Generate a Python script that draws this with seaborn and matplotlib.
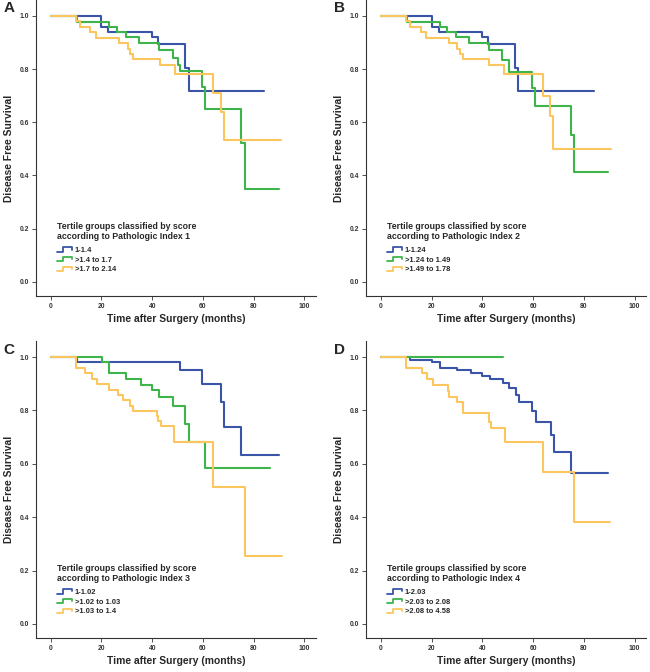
import pandas as pd
import matplotlib
matplotlib.use("Agg")
import matplotlib.pyplot as plt
import seaborn as sns
from matplotlib.legend_handler import HandlerBase
from matplotlib.lines import Line2D

# step points of the Kaplan-Meier curves (time, survival)
blue_a_t = [0, 20, 22.5, 40, 42.5, 53, 54.5, 84]
blue_a_s = [1, 0.96, 0.94, 0.92, 0.895, 0.805, 0.717, 0.717]
green_a_t = [0, 10.5, 23, 26.3, 29.6, 35, 42.9, 48.2, 50.4, 51, 59.5, 61, 74.9, 76.7, 89.9]
green_a_s = [1, 0.978, 0.958, 0.94, 0.92, 0.9, 0.871, 0.84, 0.817, 0.792, 0.732, 0.651, 0.522, 0.348, 0.348]
yellow_a_t = [0, 10, 11.6, 15.5, 17.8, 27, 30.3, 31.3, 32.6, 43.2, 49, 64.2, 67, 68.2, 90.9]
yellow_a_s = [1, 0.98, 0.96, 0.94, 0.918, 0.898, 0.877, 0.857, 0.837, 0.815, 0.781, 0.71, 0.638, 0.533, 0.533]

blue_b_t = [0, 20, 22.7, 39.8, 42.4, 52.9, 53.9, 84]
blue_b_s = [1, 0.96, 0.94, 0.92, 0.895, 0.805, 0.717, 0.717]
green_b_t = [0, 10.2, 23.4, 26.2, 29.5, 34.9, 42.7, 47.6, 50.3, 59.4, 60.8, 74.8, 76.1, 89.4]
green_b_s = [1, 0.978, 0.958, 0.94, 0.92, 0.9, 0.87, 0.836, 0.79, 0.73, 0.661, 0.552, 0.413, 0.413]
yellow_b_t = [0, 10, 11.5, 15.7, 17.8, 26.9, 30, 31.2, 32.3, 42.8, 48.6, 64, 66.7, 68, 90.6]
yellow_b_s = [1, 0.98, 0.96, 0.94, 0.918, 0.898, 0.877, 0.857, 0.837, 0.815, 0.78, 0.70, 0.623, 0.5, 0.5]

blue_c_t = [0, 10.5, 51, 59.6, 67.1, 68.2, 75, 89.9]
blue_c_s = [1, 0.98, 0.95, 0.9, 0.831, 0.7375, 0.6325, 0.6325]
green_c_t = [0, 20.1, 23, 29.6, 35.7, 40.1, 42.9, 48.2, 53, 54.7, 61, 86.6]
green_c_s = [1, 0.98, 0.939, 0.918, 0.897, 0.877, 0.852, 0.8175, 0.75, 0.6825, 0.584, 0.584]
yellow_c_t = [0, 10, 13.5, 16.2, 18.2, 23, 26.4, 28.7, 31.3, 32.4, 41.8, 42.5, 43.4, 48.7, 64.2, 76.7, 91.2]
yellow_c_s = [1, 0.96, 0.94, 0.918, 0.898, 0.877, 0.857, 0.8375, 0.8175, 0.797, 0.78, 0.76, 0.74, 0.683, 0.5125, 0.256, 0.256]

blue_d_t = [0, 11.5, 20.1, 23.4, 29.9, 35.4, 40, 43, 48.3, 50.5, 53.1, 54.5, 59.4, 61, 67.1, 68.2, 74.9, 89.6]
blue_d_s = [1, 0.99, 0.98, 0.96, 0.95, 0.939, 0.929, 0.9175, 0.901, 0.883, 0.857, 0.832, 0.799, 0.757, 0.7075, 0.643, 0.564, 0.564]
green_d_t = [0, 48.3]
green_d_s = [1, 1]
yellow_d_t = [0, 10, 16.1, 18.1, 20.5, 26.6, 27, 29.9, 32.2, 42.6, 43.3, 48.9, 64, 76.2, 90.5]
yellow_d_s = [1, 0.96, 0.939, 0.9175, 0.895, 0.874, 0.852, 0.83, 0.789, 0.757, 0.735, 0.6825, 0.57, 0.382, 0.382]

labels_a = ["1-1.4", ">1.4 to 1.7", ">1.7 to 2.14"]
labels_b = ["1-1.24", ">1.24 to 1.49", ">1.49 to 1.78"]
labels_c = ["1-1.02", ">1.02 to 1.03", ">1.03 to 1.4"]
labels_d = ["1-2.03", ">2.03 to 2.08", ">2.08 to 4.58"]

colors = ["#3a55a8", "#3db54a", "#fbc65e"]
x_ticks = [0, 20, 40, 60, 80, 100]
y_ticks = [0.0, 0.2, 0.4, 0.6, 0.8, 1.0]

panels = [
    ("A", 1, [(blue_a_t, blue_a_s), (green_a_t, green_a_s), (yellow_a_t, yellow_a_s)], labels_a),
    ("B", 2, [(blue_b_t, blue_b_s), (green_b_t, green_b_s), (yellow_b_t, yellow_b_s)], labels_b),
    ("C", 3, [(blue_c_t, blue_c_s), (green_c_t, green_c_s), (yellow_c_t, yellow_c_s)], labels_c),
    ("D", 4, [(blue_d_t, blue_d_s), (green_d_t, green_d_s), (yellow_d_t, yellow_d_s)], labels_d),
]


# legend icon shaped like a little survival step
class StepHandler(HandlerBase):
    def create_artists(self, legend, orig_handle, xdescent, ydescent, width, height, fontsize, trans):
        x0, y0 = -xdescent, -ydescent
        xs = [x0, x0 + 0.4 * width, x0 + 0.4 * width, x0 + width, x0 + width]
        ys = [y0 + 0.1 * height, y0 + 0.1 * height, y0 + 0.9 * height, y0 + 0.9 * height, y0 + 0.5 * height]
        line = Line2D(xs, ys, color=orig_handle.get_color(), lw=1.3, transform=trans)
        return [line]


sns.set_style("ticks")
plt.rcParams["font.family"] = ["Liberation Sans", "DejaVu Sans"]
plt.rcParams["font.weight"] = "bold"

fig = plt.figure(figsize=(6.5, 6.72), dpi=100)
positions = {
    "A": [0.0554, 0.5595, 0.431, 0.4405],
    "B": [0.5635, 0.5595, 0.431, 0.4405],
    "C": [0.0554, 0.0501, 0.431, 0.4424],
    "D": [0.5635, 0.0501, 0.431, 0.4424],
}

for letter, idx, curves, labels in panels:
    ax = fig.add_axes(positions[letter])
    rows = []
    for (t, s), lab in zip(curves, labels):
        for ti, si in zip(t, s):
            rows.append({"time": ti, "surv": si, "group": lab})
    df = pd.DataFrame(rows)
    sns.lineplot(data=df, x="time", y="surv", hue="group", hue_order=labels,
                 palette=colors, estimator=None, drawstyle="steps-post",
                 lw=1.5, ax=ax, legend=False)

    ax.set_xlim(-5.8, 104.7)
    ax.set_ylim(-0.054, 1.06)
    ax.set_xticks(x_ticks)
    ax.set_yticks(y_ticks)
    ax.set_xticklabels([str(v) for v in x_ticks])
    ax.set_yticklabels([f"{v:.1f}" for v in y_ticks])
    ax.tick_params(labelsize=4.9, length=3, width=0.6, pad=2, colors="#333333")
    for lab in ax.get_xticklabels() + ax.get_yticklabels():
        lab.set_fontweight("bold")
    sns.despine(ax=ax)
    for sp in ["left", "bottom"]:
        ax.spines[sp].set_linewidth(0.8)
        ax.spines[sp].set_color("#333333")

    ax.set_xlabel("Time after Surgery (months)", fontsize=7.4, fontweight="bold", labelpad=3)
    ax.set_ylabel("Disease Free Survival", fontsize=7.4, fontweight="bold", labelpad=4)

    handles = [Line2D([], [], color=c) for c in colors]
    leg = ax.legend(handles, labels, handler_map={Line2D: StepHandler()},
                    title=f"Tertile groups classified by score\naccording to Pathologic Index {idx}",
                    loc="upper left", bbox_to_anchor=(0.055, 0.268), frameon=False,
                    fontsize=5.4, title_fontproperties={"size": 6.3, "weight": "bold"},
                    alignment="left", handlelength=2.0, handletextpad=0.4,
                    labelspacing=0.32, borderpad=0.2)
    leg._legend_box.sep = 4
    for txt in leg.get_texts():
        txt.set_fontweight("bold")

    ax.text(-0.115, 0.995, letter, transform=ax.transAxes, fontsize=11,
            fontweight="bold", va="top", ha="left")

fig.savefig("out.png", dpi=100)
